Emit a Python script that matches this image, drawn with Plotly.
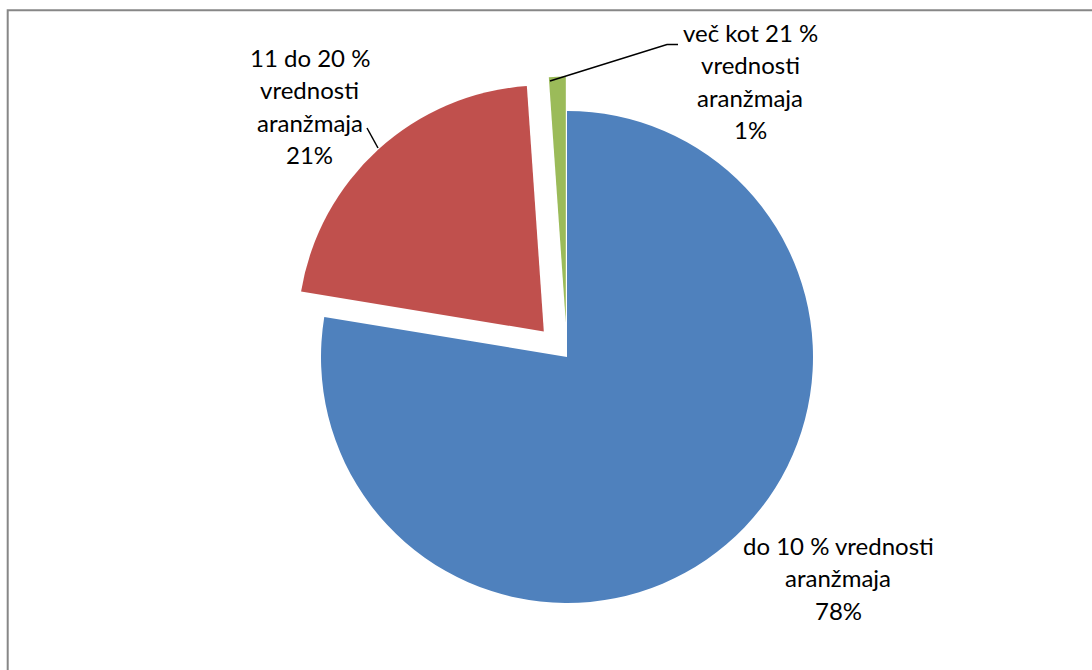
import plotly.graph_objects as go

# ---- data ----
categories = ["do 10 % vrednosti aranžmaja",
              "11 do 20 % vrednosti aranžmaja",
              "več kot 21 % vrednosti aranžmaja"]
values = [77.6, 21.3, 1.1]
label_lines = [["do 10 % vrednosti", "aranžmaja"],
               ["11 do 20 %", "vrednosti", "aranžmaja"],
               ["več kot 21 %", "vrednosti", "aranžmaja"]]
colors = ["#4F81BD", "#C0504D", "#9BBB59"]
pulls = [0, 0.14, 0.14]

# ---- layout geometry (pixels) ----
W, H = 1092, 670
cx, cy, r = 567, 357, 246
half = r * (1 + max(pulls))
FONT = "Lato"
FS = 24
LINE = 32.3
# label anchor: centre x, first line centre y
label_pos = [(838, 545.5), (309.5, 57.5), (750, 32.5)]

fig = go.Figure(go.Pie(
    labels=categories,
    values=values,
    marker=dict(colors=colors, line=dict(width=0)),
    pull=pulls,
    sort=False,
    direction="clockwise",
    rotation=0,
    textinfo="none",
    hoverinfo="skip",
    showlegend=False,
    domain=dict(x=[(cx - half) / W, (cx + half) / W],
                y=[1 - (cy + half) / H, 1 - (cy - half) / H]),
))

total = sum(values)
annotations = []
for lines, v, (lx, ly) in zip(label_lines, values, label_pos):
    texts = lines + [f"{round(v / total * 100)}%"]
    for i, t in enumerate(texts):
        annotations.append(dict(
            x=lx / W, y=1 - (ly + i * LINE) / H, xref="paper", yref="paper",
            text=t, showarrow=False, xanchor="center", yanchor="middle",
            font=dict(family=FONT, size=FS, color="#000000")))

def px(x, y):
    return x / W, 1 - y / H

shapes = []
# leader line for red slice
x0, y0 = px(367, 128); x1, y1 = px(378, 148)
shapes.append(dict(type="line", xref="paper", yref="paper", x0=x0, y0=y0, x1=x1, y1=y1,
                   line=dict(color="black", width=1.5)))
# leader line for green slice
pts = [(550, 81), (667, 44.5), (678, 44.5)]
path = "M " + " L ".join(f"{p[0]/W},{1 - p[1]/H}" for p in pts)
shapes.append(dict(type="path", xref="paper", yref="paper", path=path,
                   line=dict(color="black", width=1.5)))
# chart border (top and left visible)
bx, by = px(7.7, 10.3)
shapes.append(dict(type="rect", xref="paper", yref="paper", x0=bx, y0=-0.2, x1=1.2, y1=by,
                   line=dict(color="#878787", width=2)))

fig.update_layout(
    width=W, height=H,
    margin=dict(l=0, r=0, t=0, b=0),
    paper_bgcolor="white", plot_bgcolor="white",
    annotations=annotations,
    shapes=shapes,
)

fig.write_html("out.html")
